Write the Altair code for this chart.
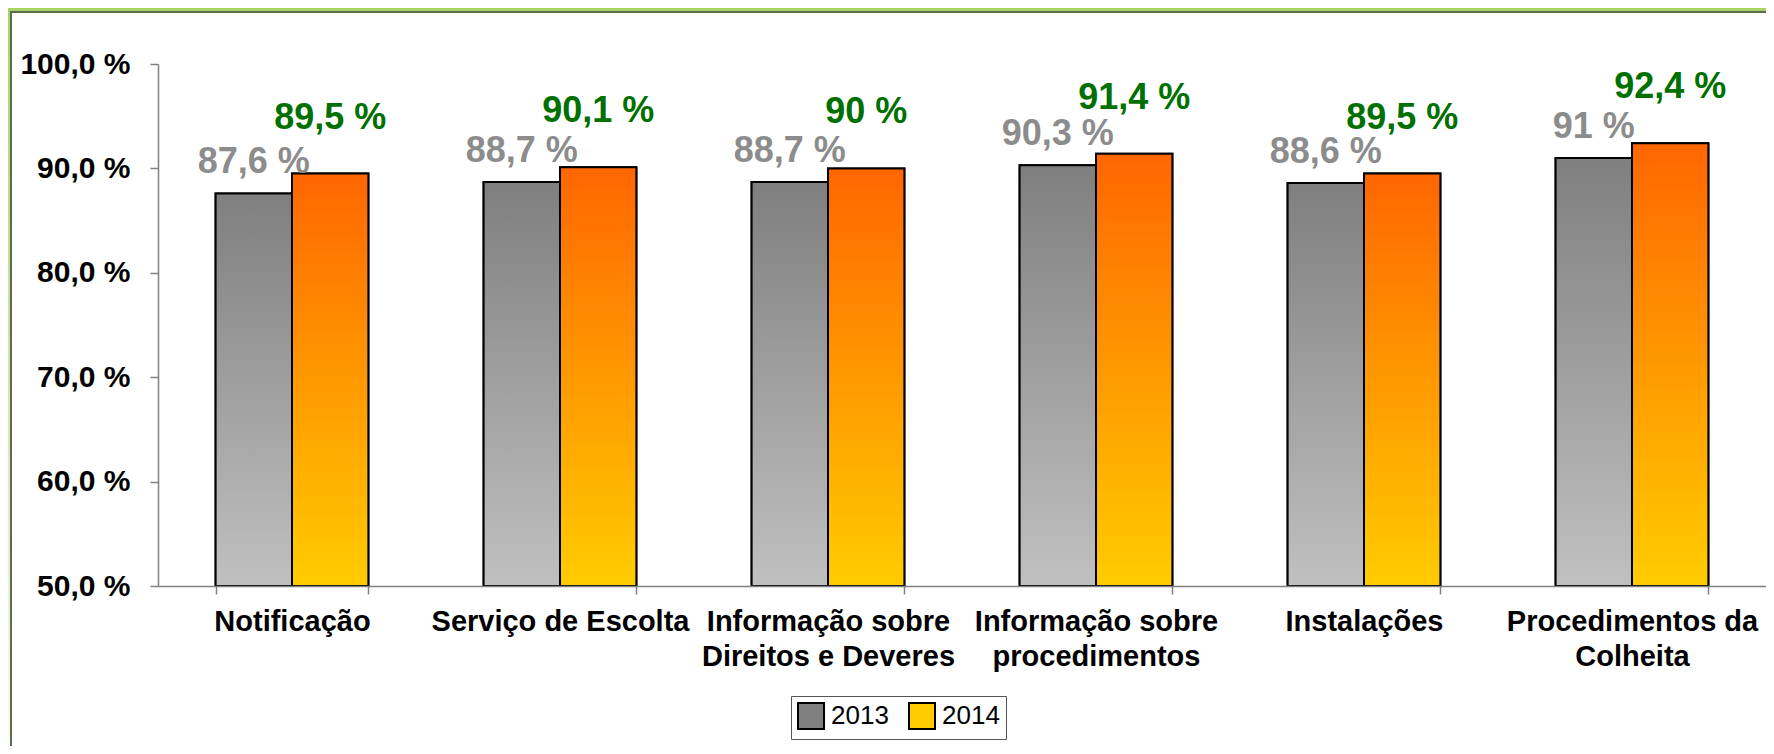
import altair as alt
import pandas as pd

categories = [
    "Notificação",
    "Serviço de Escolta",
    "Informação sobre|Direitos e Deveres",
    "Informação sobre|procedimentos",
    "Instalações",
    "Procedimentos da|Colheita",
]
years = ["2013", "2014"]
values_2013 = [87.6, 88.7, 88.7, 90.3, 88.6, 91.0]
values_2014 = [89.5, 90.1, 90.0, 91.4, 89.5, 92.4]
y_ticks = [50, 60, 70, 80, 90, 100]

rows = []
for c, a, b in zip(categories, values_2013, values_2014):
    rows.append({"cat": c, "year": "2013", "value": a})
    rows.append({"cat": c, "year": "2014", "value": b})
df = pd.DataFrame(rows)

FONT = "Liberation Sans"
PLOT_W = 1608
PLOT_H = 522
PAD_L = 150
PAD_T = 56
TOTAL_W = 1758
TOTAL_H = 738

grad_gray = {
    "gradient": "linear", "x1": 0, "y1": 0, "x2": 0, "y2": 1,
    "stops": [{"offset": 0, "color": "#7f7f7f"}, {"offset": 1, "color": "#c0c0c0"}],
}
grad_orange = {
    "gradient": "linear", "x1": 0, "y1": 0, "x2": 0, "y2": 1,
    "stops": [
        {"offset": 0, "color": "#ff6600"},
        {"offset": 0.5, "color": "#ff9900"},
        {"offset": 1, "color": "#ffcc00"},
    ],
}
grad_left = {
    "gradient": "linear", "x1": 0, "y1": 0, "x2": 0, "y2": 1,
    "stops": [{"offset": 0, "color": "#a8d462"}, {"offset": 1, "color": "#ffffff"}],
}

x_enc = alt.X(
    "cat:N",
    sort=categories,
    title=None,
    scale=alt.Scale(paddingInner=0.43, paddingOuter=0.215),
    axis=alt.Axis(
        labelExpr="split(datum.label, '|')",
        labelAngle=0,
        labelFont=FONT,
        labelFontSize=29,
        labelFontWeight="bold",
        labelColor="black",
        labelLineHeight=35,
        labelPadding=13,
        labelLimit=0,
        tickBand="extent",
        tickSize=8,
        tickColor="#808080",
        tickWidth=1.5,
        domainColor="#808080",
        domainWidth=1.5,
        grid=False,
        zindex=1,
    ),
)
xoff = alt.XOffset("year:N", sort=years, scale=alt.Scale(domain=years, paddingInner=0, paddingOuter=0))
y_enc = alt.Y(
    "value:Q",
    title=None,
    scale=alt.Scale(domain=[50, 100], nice=False, zero=False),
    axis=alt.Axis(
        values=y_ticks,
        labelExpr="replace(format(datum.value, '.1f'), '.', ',') + ' %'",
        labelFont=FONT,
        labelFontSize=30,
        labelFontWeight="bold",
        labelColor="black",
        labelPadding=20,
        tickSize=8,
        tickColor="#808080",
        tickWidth=1.5,
        domainColor="#808080",
        domainWidth=1.5,
        grid=False,
        zindex=1,
    ),
)

one = alt.Data(values=[{"k": 1}])

left_strip = alt.Chart(one).mark_rect(fill=grad_left).encode(
    x=alt.value(-PAD_L), x2=alt.value(-PAD_L + 2),
    y=alt.value(-PAD_T + 3), y2=alt.value(TOTAL_H),
)
panel = alt.Chart(one).mark_rect(fill="white", stroke="#5e6b50", strokeWidth=2).encode(
    x=alt.value(-PAD_L + 3), x2=alt.value(PLOT_W + 400),
    y=alt.value(-PAD_T + 4), y2=alt.value(TOTAL_H + 200),
)

base = alt.Chart(df).transform_calculate(
    label="replace(toString(datum.value), '.', ',') + ' %'"
)

legend_bars = base.mark_bar(stroke="black", strokeWidth=2).encode(
    x=x_enc, xOffset=xoff, y=y_enc, y2=alt.datum(50),
    color=alt.Color(
        "year:N",
        scale=alt.Scale(domain=years, range=["#808080", "#ffcc00"]),
        legend=alt.Legend(
            title=None,
            orient="none",
            direction="horizontal",
            legendX=633,
            legendY=632,
            symbolType="square",
            symbolSize=676,
            symbolStrokeColor="black",
            symbolStrokeWidth=2,
            labelFont="Liberation Sans Narrow, Liberation Sans",
            labelFontSize=26,
            labelColor="black",
            labelOffset=6,
            columnPadding=16,
            padding=6,
            strokeColor="#555555",
            fillColor="white",
        ),
    ),
)

grad_bars = base.mark_bar(stroke="black", strokeWidth=2).encode(
    x=x_enc, xOffset=xoff, y=y_enc, y2=alt.datum(50),
    fill=alt.condition(alt.datum.year == "2013", alt.value(grad_gray), alt.value(grad_orange)),
)

lab13 = base.transform_filter(alt.datum.year == "2013").mark_text(
    font=FONT, fontSize=36, fontWeight="bold", color="#8c8c8c",
    baseline="alphabetic", align="center", dy=-20,
).encode(x=x_enc, xOffset=xoff, y=y_enc, text="label:N")

lab14 = base.transform_filter(alt.datum.year == "2014").mark_text(
    font=FONT, fontSize=36, fontWeight="bold", color="#007000",
    baseline="alphabetic", align="center", dy=-45,
).encode(x=x_enc, xOffset=xoff, y=y_enc, text="label:N")

chart = alt.layer(left_strip, panel, legend_bars, grad_bars, lab13, lab14).properties(
    width=PLOT_W,
    height=PLOT_H,
    autosize=alt.AutoSizeParams(type="none"),
    padding={"left": PAD_L, "top": PAD_T, "right": TOTAL_W - PAD_L - PLOT_W, "bottom": TOTAL_H - PAD_T - PLOT_H},
    background="#a8d462",
).configure_view(strokeWidth=0)

chart.save("out.html", embed_options={"renderer": "svg", "actions": False})
